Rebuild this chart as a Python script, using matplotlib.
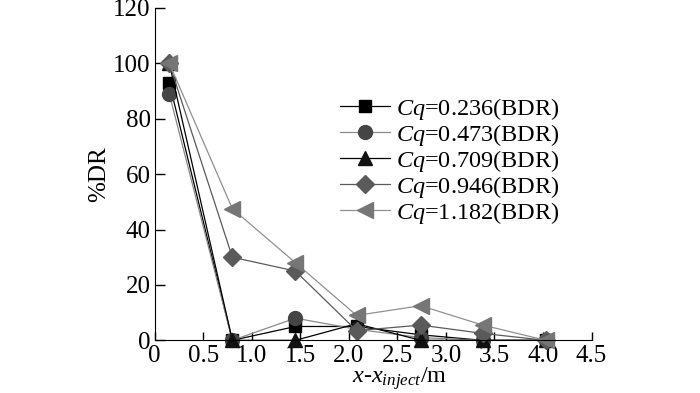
import matplotlib
matplotlib.use("Agg")
import matplotlib.pyplot as plt

plt.rcParams['font.family'] = ['Liberation Serif', 'DejaVu Serif']
plt.rcParams['mathtext.fontset'] = 'custom'
plt.rcParams['mathtext.rm'] = 'Liberation Serif'
plt.rcParams['mathtext.it'] = 'Liberation Serif:italic'

x = [0.15, 0.80, 1.45, 2.08, 2.74, 3.38, 4.03]
cq_labels = ['0.236', '0.473', '0.709', '0.946', '1.182']
s_0236 = [93, 0, 5, 5, 2, 0, 0]
s_0473 = [89, 0, 8, 4, 1, 0, 0]
s_0709 = [100, 0, 0, 6, 0, 0, 0]
s_0946 = [100, 30, 25, 3.5, 5.5, 2.5, 0]
s_1182 = [100, 47.5, 28, 9, 12.5, 5.5, 0]
series = [s_0236, s_0473, s_0709, s_0946, s_1182]

markers = ['s', 'o', '^', 'D', '<']
mcolors = ['#000000', '#454545', '#111111', '#5a5a5a', '#767676']
lcolors = ['#000000', '#8a8a8a', '#000000', '#5a5a5a', '#909090']
msizes = [9, 10, 10, 9, 11]

fig = plt.figure(figsize=(7, 3.93), dpi=100)
ax = fig.add_axes([0.221, 0.134, 0.624, 0.846])

for vals, cq, m, mc, lc, ms in zip(series, cq_labels, markers, mcolors, lcolors, msizes):
    ax.plot(x, vals, marker=m, color=lc, markerfacecolor=mc, markeredgecolor=mc,
            markersize=ms, linewidth=0.9, label='$Cq$=' + cq + '(BDR)', clip_on=False)

ax.set_xlim(0, 4.5)
ax.set_ylim(0, 120)
ax.set_xticks([0, 0.5, 1.0, 1.5, 2.0, 2.5, 3.0, 3.5, 4.0, 4.5])
ax.set_xticklabels(['0', '0.5', '1.0', '1.5', '2.0', '2.5', '3.0', '3.5', '4.0', '4.5'])
ax.set_yticks([0, 20, 40, 60, 80, 100, 120])
ax.spines['top'].set_visible(False)
ax.spines['right'].set_visible(False)
ax.tick_params(axis='x', direction='in', length=6, width=1, labelsize=18, pad=3)
ax.tick_params(axis='y', direction='in', length=7, width=1, labelsize=18, pad=3)
ax.set_xlabel('$x$-$x_{inject}$/m', fontsize=17.5)
ax.xaxis.set_label_coords(0.56, -0.076)
ax.set_ylabel('%DR', fontsize=18, labelpad=2)

leg = ax.legend(loc='upper left', bbox_to_anchor=(0.424, 0.735), frameon=False,
                fontsize=17.5, handlelength=2.05, handletextpad=0.25,
                labelspacing=0.0, borderpad=0, borderaxespad=0)

fig.savefig('out.png', dpi=100)
